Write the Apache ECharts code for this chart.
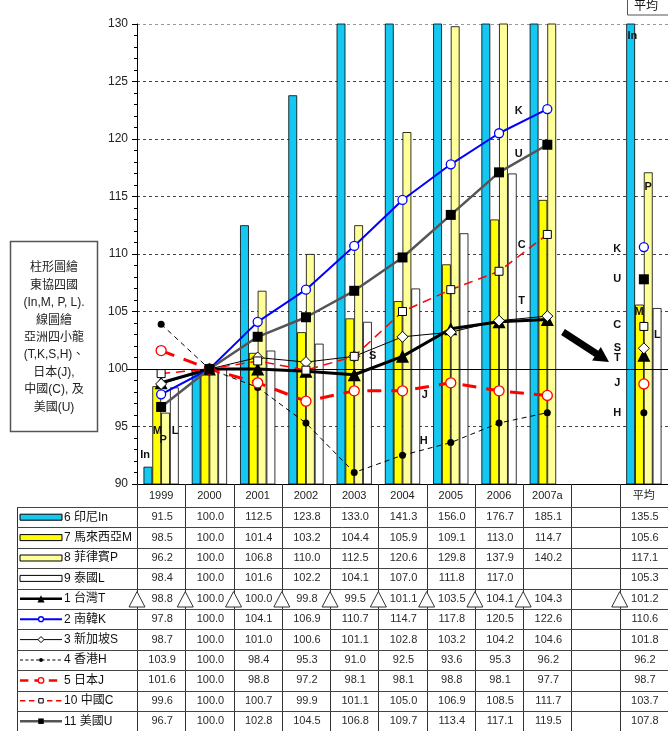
<!DOCTYPE html>
<html><head><meta charset="utf-8">
<script src="https://cdn.jsdelivr.net/npm/echarts@6/dist/echarts.min.js"></script>
<style>html,body{margin:0;padding:0;background:#fff;overflow:hidden}#c{width:668px;height:731px;}</style>
</head><body><div id="c"></div>
<script>
// ---------- data ----------
const categories = ['1999','2000','2001','2002','2003','2004','2005','2006','2007a','','平均'];
const indonesia   = [91.5,100.0,112.5,123.8,133.0,141.3,156.0,176.7,185.1,null,135.5];
const malaysia    = [98.5,100.0,101.4,103.2,104.4,105.9,109.1,113.0,114.7,null,105.6];
const philippines = [96.2,100.0,106.8,110.0,112.5,120.6,129.8,137.9,140.2,null,117.1];
const thailand    = [98.4,100.0,101.6,102.2,104.1,107.0,111.8,117.0,null,null,105.3];
const taiwan      = [98.8,100.0,100.0,99.8,99.5,101.1,103.5,104.1,104.3,null,101.2];
const korea       = [97.8,100.0,104.1,106.9,110.7,114.7,117.8,120.5,122.6,null,110.6];
const singapore   = [98.7,100.0,101.0,100.6,101.1,102.8,103.2,104.2,104.6,null,101.8];
const hongkong    = [103.9,100.0,98.4,95.3,91.0,92.5,93.6,95.3,96.2,null,96.2];
const japan       = [101.6,100.0,98.8,97.2,98.1,98.1,98.8,98.1,97.7,null,98.7];
const china       = [99.6,100.0,100.7,99.9,101.1,105.0,106.9,108.5,111.7,null,103.7];
const usa         = [96.7,100.0,102.8,104.5,106.8,109.7,113.4,117.1,119.5,null,107.8];
const rowNames = ['6 印尼In','7 馬來西亞M','8 菲律賓P','9 泰國L','1 台灣T','2 南韓K','3 新加坡S','4 香港H','5 日本J','10 中國C','11 美國U'];
const yMin = 90, yMax = 130, yStep = 5, baseValue = 100;
const noteLines = ['柱形圖繪','東協四國','(In,M, P, L).','線圖繪','亞洲四小龍','(T,K,S,H)、','日本(J),','中國(C), 及','美國(U)'];
const avgHeader = '平均';
// annotation letters: [text, category index, offset in category widths, value]
const annotations = [
  ['In',0,-0.33,92.5],['M',0,-0.08,94.6],['P',0,0.04,93.8],['L',0,0.29,94.6],
  ['K',8,-0.59,122.4],['U',8,-0.59,118.7],['C',8,-0.53,110.8],['T',8,-0.53,105.9],
  ['S',4,0.38,101.1],['J',5,0.46,97.7],['H',5,0.44,93.7],
  ['In',10,-0.24,129.0],['P',10,0.09,115.8],['K',10,-0.55,110.4],['U',10,-0.55,107.8],
  ['M',10,-0.1,105.0],['C',10,-0.55,103.8],['L',10,0.28,103.0],['S',10,-0.55,101.8],
  ['T',10,-0.55,101.0],['J',10,-0.55,98.8],['H',10,-0.55,96.2]
];

// ---------- styles ----------
const FONT = '"Liberation Sans", Arial, "Noto Sans CJK TC", sans-serif';
const CJK = '"Liberation Sans", Arial, "Noto Sans CJK TC", sans-serif';
const barDefs = [
  {name:rowNames[0], data:indonesia, color:'#15C8F2'},
  {name:rowNames[1], data:malaysia, color:'#FFFF00'},
  {name:rowNames[2], data:philippines, color:'#FFFF99'},
  {name:rowNames[3], data:thailand, color:'#FFFFFF'}
];
const lineDefs = [
  {name:rowNames[4], data:taiwan, color:'#000', width:3, type:'solid', symbol:'triangle', size:13, fill:'#000', border:'#000', bw:0},
  {name:rowNames[5], data:korea, color:'#0000FF', width:2, type:'solid', symbol:'circle', size:9, fill:'#fff', border:'#0000FF', bw:1.3},
  {name:rowNames[6], data:singapore, color:'#000', width:1, type:'solid', symbol:'diamond', size:11, fill:'#fff', border:'#000', bw:1},
  {name:rowNames[7], data:hongkong, color:'#000', width:1, type:[5,4], symbol:'circle', size:7, fill:'#000', border:'#000', bw:0},
  {name:rowNames[8], data:japan, color:'#FF0000', width:3, type:[14,10], symbol:'circle', size:10, fill:'#fff', border:'#FF0000', bw:1.3},
  {name:rowNames[9], data:china, color:'#FF0000', width:1.5, type:[9,6], symbol:'rect', size:8, fill:'#fff', border:'#000', bw:1},
  {name:rowNames[10], data:usa, color:'#555', width:2.5, type:'solid', symbol:'rect', size:10, fill:'#000', border:'#000', bw:0}
];

const series = [];
barDefs.forEach(b => series.push({
  type:'bar', name:b.name, data:b.data, barGap:'0%', barCategoryGap:'27%',
  itemStyle:{color:b.color, borderColor:'#000', borderWidth:0.8}, z:2, silent:true, animation:false
}));
lineDefs.forEach((l, k) => series.push({
  type:'line', name:l.name, data:l.data, symbol:l.symbol, symbolSize:l.size, showAllSymbol:true,
  connectNulls:false, lineStyle:{color:l.color, width:l.width, type:l.type},
  itemStyle:{color:l.fill, borderColor:l.border, borderWidth:l.bw}, z:5+k, silent:true, animation:false,
  markLine: k === 0 ? {silent:true, symbol:['none','none'], label:{show:false},
    lineStyle:{color:'#000', width:1, type:'solid'}, data:[{yAxis:baseValue}], animation:false} : undefined
}));

const option = {
  animation:false,
  grid:{left:137, right:0, top:24, bottom:247, containLabel:false, outerBoundsMode:'none'},
  xAxis:{type:'category', data:categories, boundaryGap:true,
    axisLine:{show:true, lineStyle:{color:'#000', width:1}},
    axisTick:{show:false},
    axisLabel:{show:true, color:'#222', fontSize:11, fontFamily:CJK, margin:6, interval:0},
    splitLine:{show:false}},
  yAxis:{type:'value', min:yMin, max:yMax, interval:yStep,
    axisLine:{show:true, lineStyle:{color:'#000', width:1}},
    axisTick:{show:true, length:5, inside:false, lineStyle:{color:'#000'}},
    minorTick:{show:true, splitNumber:5, length:3, lineStyle:{color:'#000'}},
    axisLabel:{color:'#222', fontSize:12, fontFamily:FONT, margin:9},
    splitLine:{show:true, lineStyle:{color:['#000','#444','#000','#444','#444','#444','#444','#444','#999'], width:1, type:[3,3]}}},
  series
};

const chart = echarts.init(document.getElementById('c'));
chart.setOption(option);

// ---------- table, notes, annotations ----------
const cx = i => chart.convertToPixel({xAxisIndex:0}, i);
const cy = v => chart.convertToPixel({yAxisIndex:0}, v);
const cw = cx(1) - cx(0);
const yBottom = cy(yMin);
const tableTop = yBottom + 23;
const rowH = 20.4;
const tableLeft = 17, tableRight = 668;
const tableBottom = tableTop + rowH * rowNames.length;
const G = [];
const line = (x1,y1,x2,y2,stroke,w,dash) => G.push({type:'line', silent:true, shape:{x1,y1,x2,y2}, style:{stroke, lineWidth:w||1, lineDash:dash||null}, z:50});
const text = (t,x,y,font,align,fill) => G.push({type:'text', silent:true, style:{text:t, x, y, font, align:align||'center', verticalAlign:'middle', fill:fill||'#222'}, z:60});

// baseline stub left of the axis
{
  const yb = Math.round(cy(baseValue)) + 0.5, xa = cx(0) - cw/2;
  line(xa - 10, yb, xa, yb, '#000', 1);
}
// table grid
for (let b = 0; b <= categories.length; b++) {
  const x = Math.round(cx(0) - cw/2 + b*cw) + 0.5;
  line(x, yBottom, x, tableBottom, '#333', 1);
}
line(tableLeft+0.5, tableTop, tableLeft+0.5, tableBottom, '#333', 1);
for (let r = 0; r <= rowNames.length; r++) {
  const y = Math.round(tableTop + r*rowH) + 0.5;
  line(tableLeft, y, tableRight, y, '#444', 1);
}
const tableData = [indonesia, malaysia, philippines, thailand, taiwan, korea, singapore, hongkong, japan, china, usa];
tableData.forEach((arr, r) => {
  const yc = tableTop + rowH*(r+0.5);
  arr.forEach((v, i) => { if (v != null) text(v.toFixed(1), cx(i)+1, yc, '11px '+FONT, 'center', '#2a2a2a'); });
  text(rowNames[r], 64, yc, '12px '+CJK, 'left', '#111');
  const sx1 = 20, sx2 = 62, mx = 41;
  if (r < 4) {
    G.push({type:'rect', silent:true, shape:{x:sx1, y:yc-3, width:sx2-sx1, height:6}, style:{fill:barDefs[r].color, stroke:'#000', lineWidth:1}, z:55});
  } else {
    const l = lineDefs[r-4];
    line(sx1, yc, sx2, yc, l.color, Math.min(l.width, 2.5), Array.isArray(l.type) ? l.type.map(d => d*0.6) : null);
    const s = l.size * 0.55;
    let shp;
    if (l.symbol === 'circle') shp = {type:'circle', shape:{cx:mx, cy:yc, r:s/2}};
    else if (l.symbol === 'rect') shp = {type:'rect', shape:{x:mx-s/2, y:yc-s/2, width:s, height:s}};
    else if (l.symbol === 'triangle') shp = {type:'polygon', shape:{points:[[mx,yc-s/2],[mx-s/2,yc+s/2],[mx+s/2,yc+s/2]]}};
    else shp = {type:'polygon', shape:{points:[[mx,yc-s/2],[mx-s/2,yc],[mx,yc+s/2],[mx+s/2,yc]]}};
    shp.silent = true; shp.z = 56;
    shp.style = {fill:l.fill, stroke:l.bw ? l.border : l.fill, lineWidth:l.bw || 0};
    G.push(shp);
  }
});
// Taiwan row triangles at left edge of each filled cell
{
  const r = 4, top = tableTop + rowH*r, bot = top + rowH;
  taiwan.forEach((v, i) => {
    if (v == null) return;
    const xb = cx(i) - cw/2;
    G.push({type:'polygon', silent:true, shape:{points:[[xb, top+3],[xb-8, bot-2],[xb+8, bot-2]]}, style:{fill:'#fff', stroke:'#333', lineWidth:1}, z:58});
  });
}
// note box
G.push({type:'rect', silent:true, shape:{x:10.5, y:241.5, width:87, height:190}, style:{fill:'#fff', stroke:'#555', lineWidth:1.5}, z:40});
noteLines.forEach((t, k) => text(t, 54, 268 + k*17.4, '12px '+CJK, 'center', '#222'));
// avg header box at top right
G.push({type:'rect', silent:true, shape:{x:627.5, y:-2, width:44, height:17}, style:{fill:'#fff', stroke:'#555', lineWidth:1}, z:40});
text(avgHeader, 646, 7, '12px '+CJK, 'center', '#111');
// annotations
annotations.forEach(a => text(a[0], cx(a[1]) + a[2]*cw, cy(a[3]), 'bold 11px '+FONT, 'center', '#111'));
// arrow
{
  const x1 = 563, y1 = 332, x2 = 609, y2 = 362;
  const dx = x2-x1, dy = y2-y1, L = Math.hypot(dx,dy), ux = dx/L, uy = dy/L, px = -uy, py = ux;
  const hw = 3.5, hl = 15, hh = 8;
  const bx = x2 - ux*hl, by = y2 - uy*hl;
  G.push({type:'polygon', silent:true, z:45, shape:{points:[
    [x1+px*hw, y1+py*hw],[bx+px*hw, by+py*hw],[bx+px*hh, by+py*hh],[x2,y2],
    [bx-px*hh, by-py*hh],[bx-px*hw, by-py*hw],[x1-px*hw, y1-py*hw]]}, style:{fill:'#000'}});
}
chart.setOption({graphic:{elements:G}});
</script>
</body></html>
